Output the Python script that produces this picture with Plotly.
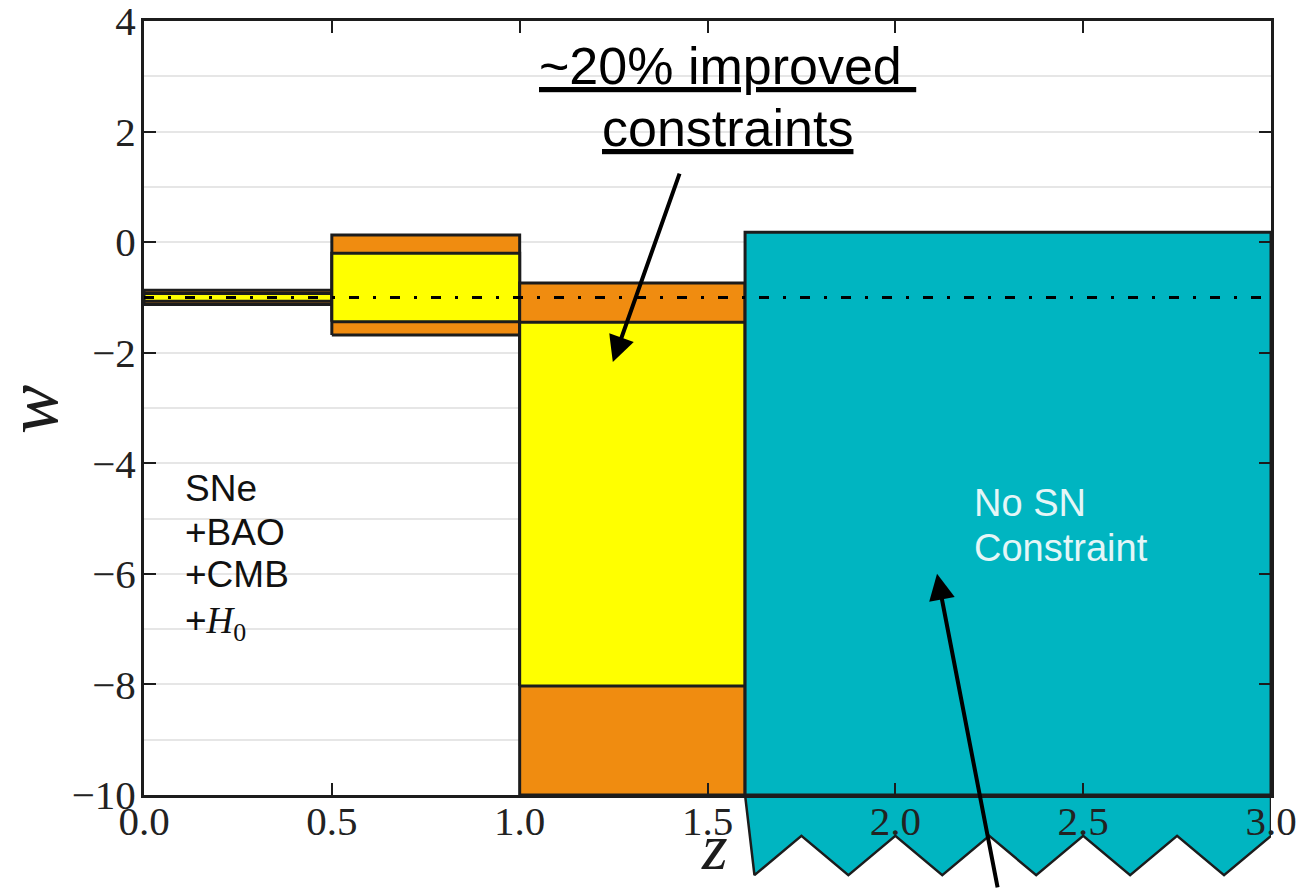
import plotly.graph_objects as go

# Redshift bins and the w constraints in each (outer = wider band, inner = tighter band)
bin_lo = [0.0, 0.5, 1.0]
bin_hi = [0.5, 1.0, 1.6]
outer_lo = [-1.13, -1.68, -10.0]
outer_hi = [-0.87, 0.13, -0.74]
inner_lo = [-1.07, -1.44, -8.03]
inner_hi = [-0.93, -0.20, -1.45]

# High-redshift bin with no SN constraint
free_lo, free_hi = 1.6, 3.0
free_top, free_floor = 0.18, -10.0

# Torn lower edge of the high-z bin, continuing below the axis
tear_z = [1.6, 1.625, 1.75, 1.875, 2.0, 2.125, 2.25, 2.375, 2.5, 2.625, 2.75, 2.875, 3.0, 3.0]
tear_w = [-10.0, -11.45, -10.74, -11.45, -10.74, -11.45, -10.74, -11.45, -10.74, -11.45,
          -10.74, -11.45, -10.74, -10.0]

# Fiducial cosmological constant
w_fid = -1.0

x_ticks = [0.0, 0.5, 1.0, 1.5, 2.0, 2.5, 3.0]
y_ticks = [-10, -8, -6, -4, -2, 0, 2, 4]
y_minor = [-9, -7, -5, -3, -1, 1, 3]

ORANGE = "#F08C10"
YELLOW = "#FFFF00"
TEAL = "#00B5C1"
INK = "#1c1c1c"
SERIF = "Liberation Serif"
SANS = "Liberation Sans"

W, H = 1299, 889
M_L, M_R, M_T, M_B = 144, 28, 21, 0
plot_bottom_px = 795
split = (H - plot_bottom_px) / (H - M_T - M_B)
lower_w_min = -10.0 - (H - plot_bottom_px) * 14.0 / (plot_bottom_px - M_T)


def rect(x0, x1, y0, y1):
    return [x0, x1, x1, x0, x0], [y0, y0, y1, y1, y0]


def px_x(p):
    return (p - M_L) / (W - M_L - M_R)


def px_y(p):
    return (H - M_B - p) / (H - M_T - M_B)


fig = go.Figure()

# torn strip beneath the axis (lower helper subplot, drawn first)
fig.add_trace(go.Scatter(x=tear_z, y=tear_w, xaxis="x", yaxis="y", mode="lines",
                         fill="toself", fillcolor=TEAL, line=dict(width=0),
                         hoverinfo="skip", showlegend=False))
fig.add_trace(go.Scatter(x=tear_z, y=tear_w, xaxis="x", yaxis="y", mode="lines",
                         line=dict(color=INK, width=2.5), hoverinfo="skip", showlegend=False))

# constrained bins
for i in range(len(bin_lo)):
    xs, ys = rect(bin_lo[i], bin_hi[i], outer_lo[i], outer_hi[i])
    fig.add_trace(go.Scatter(x=xs, y=ys, xaxis="x2", yaxis="y2", mode="lines",
                             fill="toself", fillcolor=ORANGE,
                             line=dict(color=INK, width=3), showlegend=False))
    xs, ys = rect(bin_lo[i], bin_hi[i], inner_lo[i], inner_hi[i])
    fig.add_trace(go.Scatter(x=xs, y=ys, xaxis="x2", yaxis="y2", mode="lines",
                             fill="toself", fillcolor=YELLOW,
                             line=dict(color=INK, width=3), showlegend=False))

# unconstrained bin
xs, ys = rect(free_lo, free_hi, free_floor, free_top)
fig.add_trace(go.Scatter(x=xs, y=ys, xaxis="x2", yaxis="y2", mode="lines",
                         fill="toself", fillcolor=TEAL,
                         line=dict(color=INK, width=3), showlegend=False))

# w = -1 reference line
fig.add_trace(go.Scatter(x=[x_ticks[0], x_ticks[-1]], y=[w_fid, w_fid], xaxis="x2", yaxis="y2",
                         mode="lines", line=dict(color="black", width=3, dash="10px,14px,3px,14px"),
                         showlegend=False))

annotations = [
    dict(text="<u>~20% improved\u00a0</u>", x=1.552, y=3.18, xref="x2", yref="y2",
         showarrow=False, font=dict(family=SANS, size=52, color="black")),
    dict(text="<u>constraints</u>", x=1.552, y=2.07, xref="x2", yref="y2",
         showarrow=False, font=dict(family=SANS, size=52, color="black")),
    dict(text="", x=1.248, y=-2.17, ax=1.427, ay=1.266, xref="x2", yref="y2",
         axref="x2", ayref="y2", showarrow=True, arrowhead=2, arrowsize=1.3,
         arrowwidth=4, arrowcolor="black", standoff=0),
    dict(text="", x=2.111, y=-6.0, ax=2.273, ay=-11.7, xref="x2", yref="y2",
         axref="x2", ayref="y2", showarrow=True, arrowhead=2, arrowsize=1.3,
         arrowwidth=4, arrowcolor="black", standoff=0),
    dict(text="No SN", x=2.204, y=-4.72, xref="x2", yref="y2", xanchor="left",
         showarrow=False, font=dict(family=SANS, size=38, color="#E4F6F7")),
    dict(text="Constraint", x=2.204, y=-5.535, xref="x2", yref="y2", xanchor="left",
         showarrow=False, font=dict(family=SANS, size=38, color="#E4F6F7")),
    dict(text="<i>w</i>", x=px_x(32), y=px_y(410), xref="paper", yref="paper",
         xanchor="center", yanchor="middle", textangle=-90, showarrow=False,
         font=dict(family=SERIF, size=74, color=INK)),
    dict(text="<i>z</i>", x=px_x(714), y=px_y(846), xref="paper", yref="paper",
         xanchor="center", yanchor="middle", showarrow=False,
         font=dict(family=SERIF, size=66, color=INK)),
]

probe_lines = ["SNe", "+BAO", "+CMB",
               "+<span style='font-family:Liberation Serif'><i>H</i><sub>0</sub></span>"]
probe_y = [-4.45, -5.245, -6.02, -6.89]
for txt, yy in zip(probe_lines, probe_y):
    annotations.append(dict(text=txt, x=0.104, y=yy, xref="x2", yref="y2", xanchor="left",
                            showarrow=False, font=dict(family=SANS, size=37, color="#111")))

fig.update_layout(
    template="none",
    width=W, height=H,
    margin=dict(l=M_L, r=M_R, t=M_T, b=M_B, pad=0),
    paper_bgcolor="white",
    plot_bgcolor="white",
    showlegend=False,
    annotations=annotations,
    xaxis=dict(domain=[0, 1], anchor="y", range=[0, 3], visible=False, fixedrange=True),
    yaxis=dict(domain=[0, split], anchor="x", range=[lower_w_min, -10.0], visible=False,
               fixedrange=True),
    xaxis2=dict(domain=[0, 1], anchor="y2", range=[0, 3], tickvals=x_ticks, tickformat=".1f",
                ticks="inside", ticklen=12, tickwidth=2, tickcolor=INK, mirror="ticks",
                showline=True, linewidth=3, linecolor=INK, showgrid=False, zeroline=False,
                automargin=False, ticklabelstandoff=-12, ticklabeloverflow="allow",
                tickfont=dict(family=SERIF, size=41, color="#222")),
    yaxis2=dict(domain=[split, 1], anchor="x2", range=[-10, 4], tickvals=y_ticks,
                ticks="inside", ticklen=12, tickwidth=2, tickcolor=INK, mirror="ticks",
                showline=True, linewidth=3, linecolor=INK, showgrid=True,
                gridcolor="#E6E6E6", gridwidth=1.5, zeroline=False, automargin=False,
                ticklabelstandoff=-3, ticklabeloverflow="allow",
                minor=dict(tickvals=y_minor, showgrid=True, gridcolor="#E6E6E6", gridwidth=1.5,
                           ticks=""),
                tickfont=dict(family=SERIF, size=41, color="#222")),
)

fig.write_html("out.html")
